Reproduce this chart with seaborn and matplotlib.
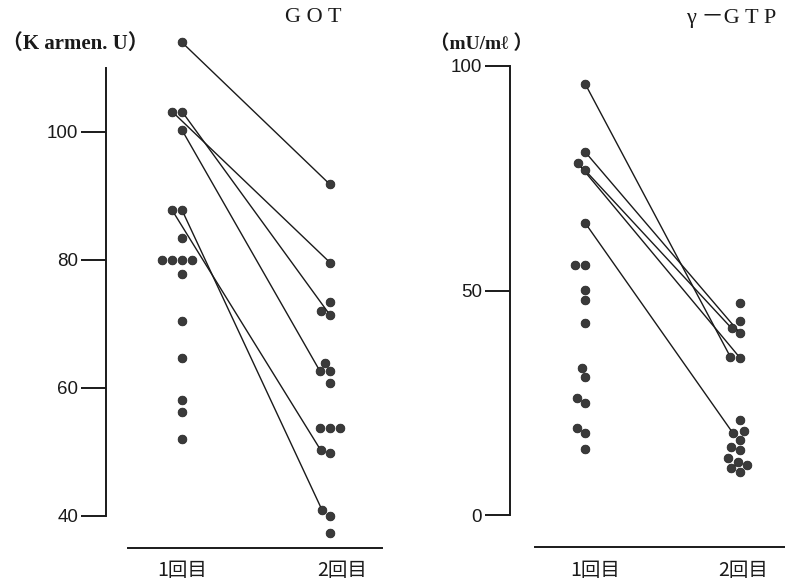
import numpy as np
import pandas as pd
import matplotlib
matplotlib.use("Agg")
import matplotlib.pyplot as plt
import matplotlib.transforms as mtransforms
import seaborn as sns

# ---------------- data ----------------
rounds = ["1回目", "2回目"]

# GOT (Karmen U) : first `got_pairs` entries of each list are connected pairs
got_first = [114.0, 103.2, 103.2, 100.3, 87.8, 87.8, 83.4, 80.0, 80.0, 80.0,
             80.0, 77.8, 70.4, 64.7, 58.1, 56.3, 52.0]
got_second = [91.8, 79.6, 71.4, 62.6, 50.3, 40.9, 73.5, 72.1, 63.9, 62.6,
              60.8, 53.7, 53.7, 53.7, 49.8, 40.0, 37.3]
got_pairs = 6
got_ticks = [40, 60, 80, 100]

# gamma-GTP (mU/ml)
gtp_first = [96.1, 80.9, 78.3, 76.8, 65.1, 55.7, 55.7, 50.1, 47.9, 42.8,
             32.7, 30.7, 26.1, 24.9, 19.4, 18.3, 14.7]
gtp_second = [35.3, 40.5, 35.0, 41.6, 18.2, 47.3, 43.1, 21.2, 18.6, 16.7,
              15.2, 14.5, 12.6, 11.9, 11.1, 10.4, 9.6]
gtp_pairs = 5
gtp_ticks = [0, 50, 100]

# ---------------- style ----------------
sns.set_theme(style="white")
plt.rcParams["font.family"] = ["Liberation Sans", "Noto Sans CJK JP", "DejaVu Sans"]

W, H = 785, 586
fig = plt.figure(figsize=(W / 100, H / 100), dpi=100)

dot_face = "#3a3a3a"
dot_edge = "#1e1e1e"
ink = "#1a1a1a"


def px_ax(l, r, b, t):
    return fig.add_axes([l / W, 1 - b / H, (r - l) / W, (b - t) / H])


def make_panel(ax, first, second, ticks, xlim, ylim, spine_b, base_l, label_dx):
    df = pd.DataFrame({
        "round": [rounds[0]] * len(first) + [rounds[1]] * len(second),
        "value": list(first) + list(second),
    })
    sns.swarmplot(data=df, x="round", y="value", order=rounds, ax=ax,
                  size=6.3, color=dot_face, edgecolor=dot_edge, linewidth=0.5,
                  zorder=3)
    ax.set_xlim(*xlim)
    ax.set_ylim(*ylim)
    ax.set_xlabel("")
    ax.set_ylabel("")
    for s in ["top", "right"]:
        ax.spines[s].set_visible(False)
    ax.spines["left"].set_bounds(*spine_b)
    ax.spines["bottom"].set_bounds(base_l, xlim[1])
    for s in ["left", "bottom"]:
        ax.spines[s].set_color(ink)
        ax.spines[s].set_linewidth(1.4)
    ax.set_yticks(ticks)
    ax.set_yticklabels([str(t) for t in ticks])
    ax.tick_params(axis="y", direction="out", length=18, width=1.4,
                   color=ink, labelsize=13.5, pad=2, labelcolor=ink, left=True)
    ax.tick_params(axis="x", length=0, pad=9, labelsize=14, labelcolor=ink)
    for lab, dx in zip(ax.get_xticklabels(), label_dx):
        lab.set_fontfamily(["Noto Sans CJK JP", "DejaVu Sans"])
        lab.set_transform(lab.get_transform() +
                          mtransforms.ScaledTranslation(dx / 100, 0, fig.dpi_scale_trans))
    ax.grid(False)
    ax.set_facecolor("none")


# left panel: x 0 -> 182px, 1 -> 330px ; y 6.4 px/unit, 100 at 132px
axL = px_ax(106, 382, 548, 30)
make_panel(axL, got_first, got_second, got_ticks,
           xlim=((106 - 182) / 148, (382 - 182) / 148),
           ylim=(35.0, 100 + (132 - 30) / 6.4),
           spine_b=(40, 110), base_l=(128 - 182) / 148, label_dx=(0, 12))

# right panel: x 0 -> 585px, 1 -> 740px ; y 4.49 px/unit, 0 at 515px
axR = px_ax(510, 785, 547, 30)
make_panel(axR, gtp_first, gtp_second, gtp_ticks,
           xlim=((510 - 585) / 155, (785 - 585) / 155),
           ylim=(-(547 - 515) / 4.49, 100 + (66 - 30) / 4.49),
           spine_b=(0, 100), base_l=(535 - 585) / 155, label_dx=(10, 3))

# compute swarm positions, then connect the paired points
fig.canvas.draw()
for ax, npairs in [(axL, got_pairs), (axR, gtp_pairs)]:
    p1 = ax.collections[0].get_offsets()
    p2 = ax.collections[1].get_offsets()
    for i in range(npairs):
        ax.plot([p1[i, 0], p2[i, 0]], [p1[i, 1], p2[i, 1]],
                color=ink, lw=1.0, zorder=2, solid_capstyle="round")

# titles and units
serif = ["Liberation Serif", "Noto Sans CJK JP", "DejaVu Serif"]
fig.text(313 / W, 1 - 18 / H, "G O T", ha="center", va="center",
         fontsize=16, family=serif, color=ink)
fig.text(686 / W, 1 - 18 / H, "γ －G T P", ha="left", va="center",
         fontsize=16, family=serif, color=ink)
fig.text(2 / W, 1 - 44 / H, "（K armen. U）", ha="left", va="center",
         fontsize=15, family=serif, fontweight="bold", color=ink)
fig.text(430 / W, 1 - 44 / H, "（mU/mℓ ）", ha="left", va="center",
         fontsize=14, family=serif, fontweight="bold", color=ink)

fig.savefig("out.png", dpi=100, facecolor="white")
